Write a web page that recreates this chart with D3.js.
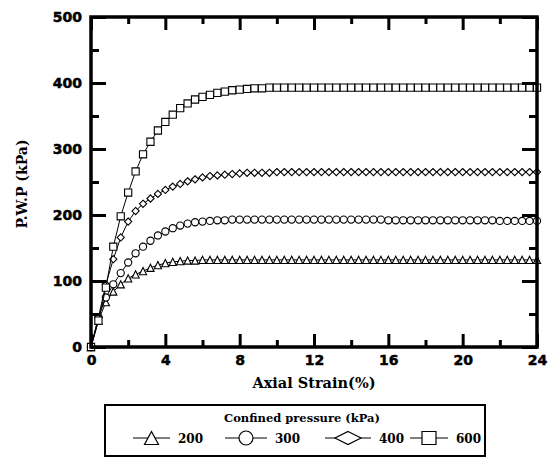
<!DOCTYPE html>
<html>
<head>
<meta charset="utf-8">
<script src="https://cdn.jsdelivr.net/npm/d3@7"></script>
<style>
  body { margin: 0; background: #fff; }
  svg { display: block; }
</style>
</head>
<body>
<svg id="chart" width="550" height="457"></svg>
<script>
// Axial strain (%) at each marker
var strain = [0, 0.4, 0.8, 1.2, 1.6, 2.0, 2.4, 2.8, 3.2, 3.6, 4.0, 4.4, 4.8, 5.2, 5.6, 6.0, 6.4, 6.8, 7.2, 7.6,
              8.0, 8.4, 8.8, 9.2, 9.6, 10.0, 10.4, 10.8, 11.2, 11.6, 12.0, 12.4, 12.8, 13.2, 13.6, 14.0, 14.4, 14.8, 15.2, 15.6,
              16.0, 16.4, 16.8, 17.2, 17.6, 18.0, 18.4, 18.8, 19.2, 19.6, 20.0, 20.4, 20.8, 21.2, 21.6, 22.0, 22.4, 22.8, 23.2, 23.6, 24.0];

// Pore water pressure (kPa) per confining pressure
var pwp_200 = [0, 40, 68, 84, 95, 104, 110, 115, 120, 124, 127, 129, 130, 131, 131, 132, 132, 132, 132, 132,
               132, 132, 132, 132, 132, 132, 132, 132, 132, 132, 132, 132, 132, 132, 132, 132, 132, 132, 132, 132,
               132, 132, 132, 132, 132, 132, 132, 132, 132, 132, 132, 132, 132, 132, 132, 132, 132, 132, 132, 132, 132];
var pwp_300 = [0, 45, 75, 95, 112, 128, 142, 152, 161, 169, 175, 180, 184, 187, 189, 190, 191, 192, 192, 193,
               193, 193, 193, 193, 193, 193, 193, 193, 193, 193, 193, 193, 193, 193, 193, 193, 193, 193, 193, 193,
               192, 192, 192, 192, 192, 192, 192, 192, 192, 192, 192, 192, 192, 192, 192, 191, 191, 191, 191, 191, 191];
var pwp_400 = [0, 45, 95, 133, 166, 190, 206, 217, 225, 232, 238, 243, 247, 251, 254, 257, 259, 260, 261, 262,
               263, 264, 264, 264, 264, 265, 265, 265, 265, 265, 265, 265, 265, 265, 265, 265, 265, 265, 265, 265,
               265, 265, 265, 265, 265, 265, 265, 265, 265, 265, 265, 265, 265, 265, 265, 265, 265, 265, 265, 265, 265];
var pwp_600 = [0, 40, 90, 152, 198, 234, 266, 292, 311, 328, 341, 352, 362, 369, 375, 379, 382, 385, 387, 389,
               390, 391, 392, 392, 393, 393, 393, 393, 393, 393, 393, 393, 393, 393, 393, 393, 393, 393, 393, 393,
               393, 393, 393, 393, 393, 393, 393, 393, 393, 393, 393, 393, 393, 393, 393, 393, 393, 393, 393, 393, 393];

var series_names = ['200', '300', '400', '600'];
var series_values = [pwp_200, pwp_300, pwp_400, pwp_600];
var series_shapes = ['triangle', 'circle', 'diamond', 'square'];

var x_major = [0, 4, 8, 12, 16, 20, 24];
var x_minor = [2, 6, 10, 14, 18, 22];
var y_major = [0, 100, 200, 300, 400, 500];
var y_minor = [50, 150, 250, 350, 450];

var svg = d3.select('#chart');
var x = d3.scaleLinear().domain([0, 24]).range([91, 537]);
var y = d3.scaleLinear().domain([0, 500]).range([347, 17]);

// Marker path centred on 0,0; w = half width, h = half height
function shapePath(shape, w, h) {
  if (shape == 'triangle') return 'M0,' + (-h) + 'L' + w + ',' + h + 'L' + (-w) + ',' + h + 'Z';
  if (shape == 'diamond') return 'M0,' + (-h) + 'L' + w + ',0L0,' + h + 'L' + (-w) + ',0Z';
  if (shape == 'square') return 'M' + (-w) + ',' + (-h) + 'H' + w + 'V' + h + 'H' + (-w) + 'Z';
  return d3.arc()({innerRadius: 0, outerRadius: w, startAngle: 0, endAngle: 2 * Math.PI});
}

// Data lines and markers
var line = d3.line().x(function(d) { return x(d[0]); }).y(function(d) { return y(d[1]); });
series_values.forEach(function(vals, i) {
  var pts = strain.map(function(s, j) { return [s, vals[j]]; });
  svg.append('path').attr('d', line(pts))
     .attr('fill', 'none').attr('stroke', '#000').attr('stroke-width', 1);
  svg.append('g').selectAll('path').data(pts).enter().append('path')
     .attr('transform', function(d) { return 'translate(' + x(d[0]) + ',' + y(d[1]) + ')'; })
     .attr('d', shapePath(series_shapes[i], 3.6, 3.6))
     .attr('fill', '#fff').attr('stroke', '#000').attr('stroke-width', 1.1);
});

// Axes with inward ticks on all four sides
function styleAxis(g) {
  g.select('.domain').remove();
  g.selectAll('line').attr('stroke', '#000').attr('stroke-width', 3);
  g.selectAll('text').attr('font-family', 'DejaVu Sans').attr('font-weight', 'bold')
   .attr('font-size', 14).attr('fill', '#000')
   .attr('stroke', '#000').attr('stroke-width', 0.5);
}
svg.append('g').attr('transform', 'translate(0,347)')
   .call(d3.axisBottom(x).tickValues(x_major).tickFormat(d3.format('d')).tickSizeInner(-13).tickSizeOuter(0).tickPadding(8))
   .call(styleAxis);
svg.append('g').attr('transform', 'translate(0,347)')
   .call(d3.axisBottom(x).tickValues(x_minor).tickFormat('').tickSizeInner(-7).tickSizeOuter(0))
   .call(styleAxis);
svg.append('g').attr('transform', 'translate(0,17)')
   .call(d3.axisTop(x).tickValues(x_major).tickFormat('').tickSizeInner(-13).tickSizeOuter(0))
   .call(styleAxis);
svg.append('g').attr('transform', 'translate(0,17)')
   .call(d3.axisTop(x).tickValues(x_minor).tickFormat('').tickSizeInner(-7).tickSizeOuter(0))
   .call(styleAxis);
svg.append('g').attr('transform', 'translate(91,0)')
   .call(d3.axisLeft(y).tickValues(y_major).tickSizeInner(-15).tickSizeOuter(0).tickPadding(9))
   .call(styleAxis);
svg.append('g').attr('transform', 'translate(91,0)')
   .call(d3.axisLeft(y).tickValues(y_minor).tickFormat('').tickSizeInner(-8).tickSizeOuter(0))
   .call(styleAxis);
svg.append('g').attr('transform', 'translate(537,0)')
   .call(d3.axisRight(y).tickValues(y_major).tickFormat('').tickSizeInner(-15).tickSizeOuter(0))
   .call(styleAxis);
svg.append('g').attr('transform', 'translate(537,0)')
   .call(d3.axisRight(y).tickValues(y_minor).tickFormat('').tickSizeInner(-8).tickSizeOuter(0))
   .call(styleAxis);

// Plot frame
svg.append('rect').attr('x', 91).attr('y', 17).attr('width', 446).attr('height', 330)
   .attr('fill', 'none').attr('stroke', '#000').attr('stroke-width', 3.5);

// Axis titles
svg.append('text').attr('x', 314).attr('y', 388).attr('text-anchor', 'middle')
   .attr('font-family', 'DejaVu Serif').attr('font-weight', 'bold').attr('font-size', 14.5)
   .text('Axial Strain(%)');
svg.append('text').attr('transform', 'translate(27,184) rotate(-90)').attr('text-anchor', 'middle')
   .attr('font-family', 'DejaVu Serif').attr('font-weight', 'bold').attr('font-size', 14)
   .text('P.W.P (kPa)');

// Legend box
var legend = svg.append('g');
legend.append('rect').attr('x', 105).attr('y', 405).attr('width', 380).attr('height', 51)
      .attr('fill', '#fff').attr('stroke', '#000').attr('stroke-width', 2);
legend.append('text').attr('x', 302).attr('y', 422).attr('text-anchor', 'middle')
      .attr('font-family', 'DejaVu Serif').attr('font-weight', 'bold').attr('font-size', 11.5)
      .text('Confined pressure (kPa)');

var legend_x = [133, 225, 325, 410];
var legend_len = [37, 42, 46, 38];
var legend_size = [[7, 6.5], [7, 7], [13, 6.5], [7, 6.5]];
series_names.forEach(function(name, i) {
  var lx = legend_x[i], ly = 438, len = legend_len[i];
  legend.append('line').attr('x1', lx).attr('x2', lx + len).attr('y1', ly).attr('y2', ly)
        .attr('stroke', '#000').attr('stroke-width', 1);
  legend.append('path').attr('transform', 'translate(' + (lx + len / 2) + ',' + ly + ')')
        .attr('d', shapePath(series_shapes[i], legend_size[i][0], legend_size[i][1]))
        .attr('fill', '#fff').attr('stroke', '#000').attr('stroke-width', 1.2);
  legend.append('text').attr('x', lx + len + 8).attr('y', ly + 4.5)
        .attr('font-family', 'DejaVu Serif').attr('font-weight', 'bold').attr('font-size', 12)
        .text(name);
});
</script>
</body>
</html>
